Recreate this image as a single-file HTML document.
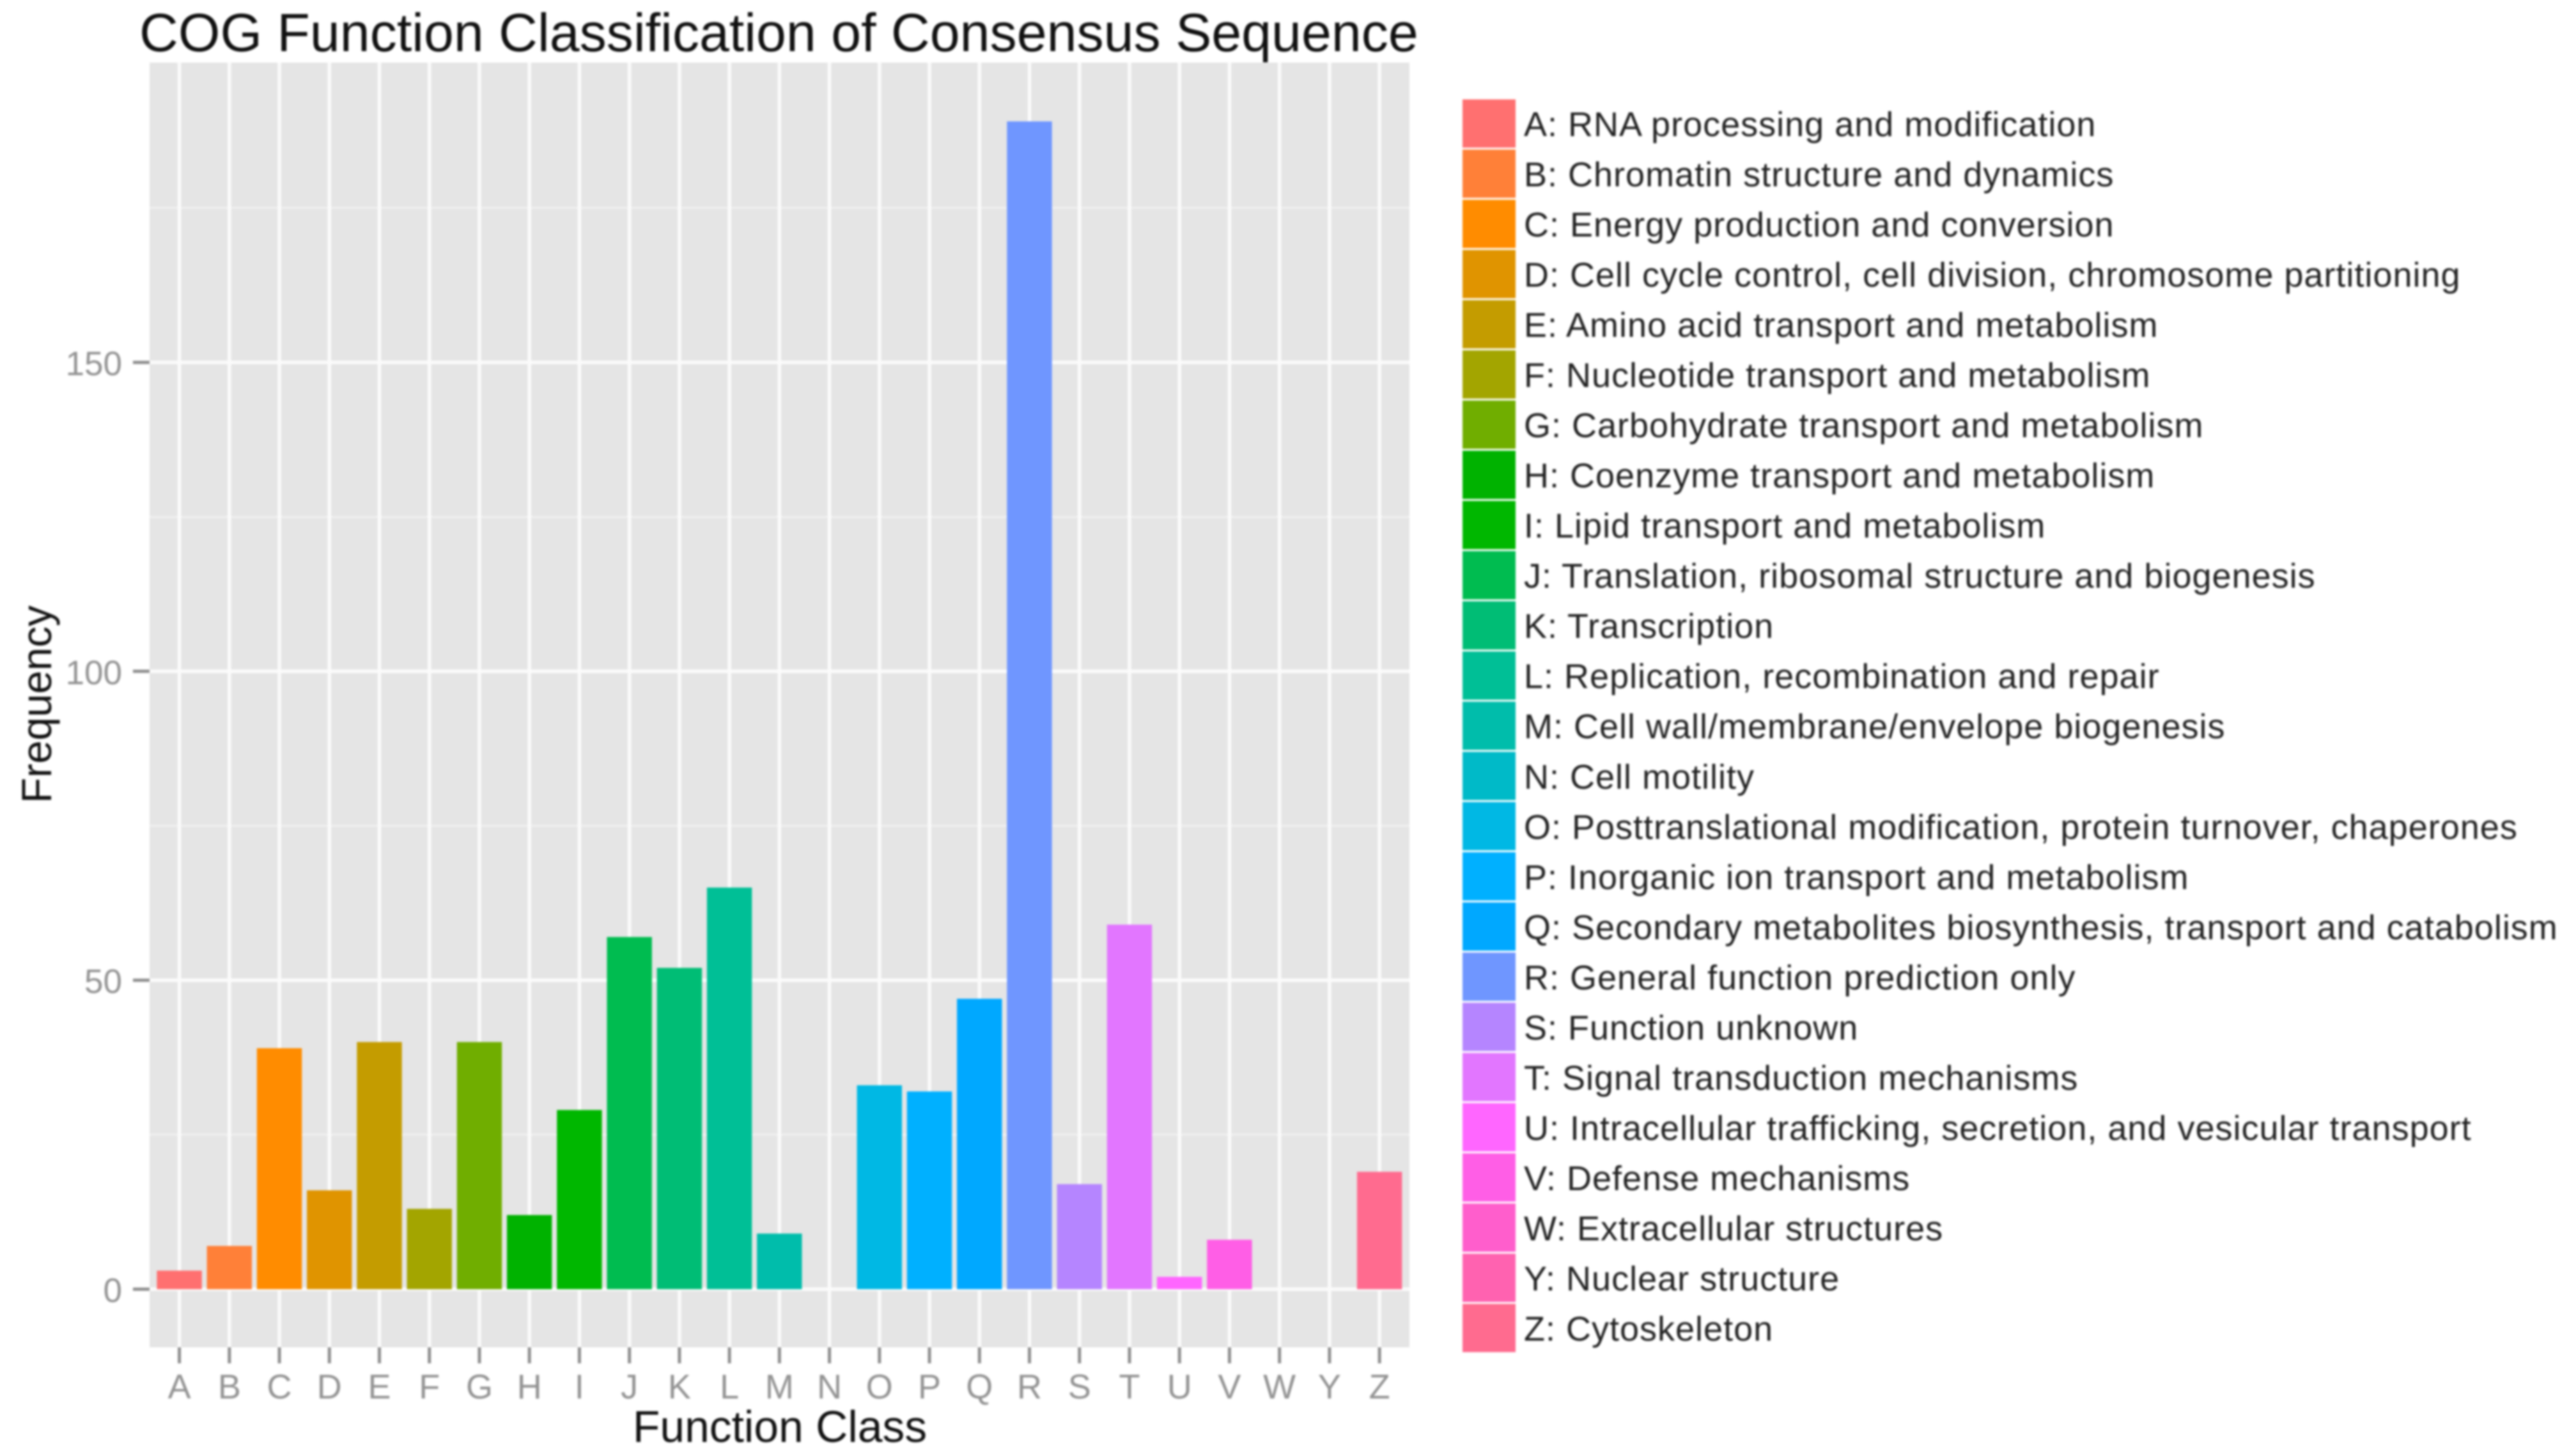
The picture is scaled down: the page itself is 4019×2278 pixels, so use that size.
<!DOCTYPE html>
<html>
<head>
<meta charset="utf-8">
<title>COG Function Classification of Consensus Sequence</title>
<style>
html,body{margin:0;padding:0;background:#fff;width:4019px;height:2278px;overflow:hidden}
svg{display:block;filter:blur(1.5px)}
text{font-family:"Liberation Sans",sans-serif}
</style>
</head>
<body>
<svg id="chart" xmlns="http://www.w3.org/2000/svg" width="4019" height="2278" viewBox="0 0 4019 2278">
  <rect x="0" y="0" width="4019" height="2278" fill="#ffffff"/>
  <text x="218" y="80" font-size="84.3" fill="#111">COG Function Classification of Consensus Sequence</text>
  <rect x="234" y="98" width="1971" height="2010" fill="#e5e5e5"/>
  <g id="grid"></g>
  <g id="bars"></g>
  <g id="yaxis"></g>
  <g id="xaxis"></g>
  <text x="1220" y="2256" font-size="69.6" text-anchor="middle" fill="#111">Function Class</text>
  <text transform="translate(80,1102) rotate(-90)" font-size="65.5" text-anchor="middle" fill="#111">Frequency</text>
  <g id="legend"></g>
</svg>
<script>
const categories = ["A","B","C","D","E","F","G","H","I","J","K","L","M","N","O","P","Q","R","S","T","U","V","W","Y","Z"];
const frequencies = [3,7,39,16,40,13,40,12,29,57,52,65,9,0,33,32,47,189,17,59,2,8,0,0,19];
const colors = ["#FF7070","#FF8038","#FF8C00","#E09400","#C49C00","#A3A500","#70AE00","#00B200","#00B700","#00BC50","#00BD75","#00BF96","#00BDAB","#00BAC8","#00B8E4","#00B0FF","#00A8FF","#6F96FF","#B585FF","#E276FF","#FF66FF","#FF5EE6","#FF5ECC","#FF62B0","#FF6B8F"];
const legendLabels = [
  "A: RNA processing and modification",
  "B: Chromatin structure and dynamics",
  "C: Energy production and conversion",
  "D: Cell cycle control, cell division, chromosome partitioning",
  "E: Amino acid transport and metabolism",
  "F: Nucleotide transport and metabolism",
  "G: Carbohydrate transport and metabolism",
  "H: Coenzyme transport and metabolism",
  "I: Lipid transport and metabolism",
  "J: Translation, ribosomal structure and biogenesis",
  "K: Transcription",
  "L: Replication, recombination and repair",
  "M: Cell wall/membrane/envelope biogenesis",
  "N: Cell motility",
  "O: Posttranslational modification, protein turnover, chaperones",
  "P: Inorganic ion transport and metabolism",
  "Q: Secondary metabolites biosynthesis, transport and catabolism",
  "R: General function prediction only",
  "S: Function unknown",
  "T: Signal transduction mechanisms",
  "U: Intracellular trafficking, secretion, and vesicular transport",
  "V: Defense mechanisms",
  "W: Extracellular structures",
  "Y: Nuclear structure",
  "Z: Cytoskeleton"
];
const yTicks = [0,50,100,150];
const yMinorTicks = [25,75,125,175];

const NS = "http://www.w3.org/2000/svg";
const PANEL = {left:234, right:2205, top:98, bottom:2108};
function xScale(i){ return 280.6 + i * 78.23; }
function yScale(v){ return 2017 - v * 9.667; }
const BAR_W = 70.4;

function make(tag, attrs, parent){
  const el = document.createElementNS(NS, tag);
  for (const k in attrs) el.setAttribute(k, attrs[k]);
  parent.appendChild(el);
  return el;
}

const grid = document.getElementById("grid");
yMinorTicks.forEach(function(v){
  const l = make("line", {x1:PANEL.left, x2:PANEL.right, y1:yScale(v), y2:yScale(v), stroke:"#f2f2f2", "stroke-width":2.5}, grid);
  
  
});
yTicks.forEach(function(v){
  const l = make("line", {x1:PANEL.left, x2:PANEL.right, y1:yScale(v), y2:yScale(v), stroke:"#fbfbfb", "stroke-width":5.5}, grid);
  
  
});
categories.forEach(function(c, i){
  const l = make("line", {x1:xScale(i), x2:xScale(i), y1:PANEL.top, y2:PANEL.bottom, stroke:"#fbfbfb", "stroke-width":5.5}, grid);
  
  
});

const bars = document.getElementById("bars");
categories.forEach(function(c, i){
  const v = frequencies[i];
  const r = make("rect", {x:xScale(i)-BAR_W/2, y:yScale(v), width:BAR_W, height:yScale(0)-yScale(v), fill:colors[i]}, bars);
  
  
});

const yaxis = document.getElementById("yaxis");
yTicks.forEach(function(v){
  const t = make("line", {x1:208, x2:PANEL.left, y1:yScale(v), y2:yScale(v), stroke:"#8f8f8f", "stroke-width":5}, yaxis);
  
  
  const s = make("text", {x:191, y:yScale(v)+20, "font-size":53, "text-anchor":"end", fill:"#939393"}, yaxis);
  s.textContent = String(v);
  
  
});

const xaxis = document.getElementById("xaxis");
categories.forEach(function(c, i){
  const t = make("line", {x1:xScale(i), x2:xScale(i), y1:PANEL.bottom, y2:2133, stroke:"#8f8f8f", "stroke-width":5}, xaxis);
  
  
  const s = make("text", {x:xScale(i), y:2188, "font-size":54, "text-anchor":"middle", fill:"#939393"}, xaxis);
  s.textContent = c;
  
  
});

const legend = document.getElementById("legend");
const LEG_TOP = 154, LEG_STEP = 78.52;
legendLabels.forEach(function(label, i){
  const g = make("g", {}, legend);
  
  
  const sw = make("rect", {x:2288, y:LEG_TOP + i*LEG_STEP + 1.5, width:83, height:LEG_STEP-3, fill:colors[i]}, g);
  
  
  const tx = make("text", {x:2384, y:213 + i*LEG_STEP, "font-size":54, "letter-spacing":1, fill:"#222"}, g);
  tx.textContent = label;
  
  
});
</script>
</body>
</html>
